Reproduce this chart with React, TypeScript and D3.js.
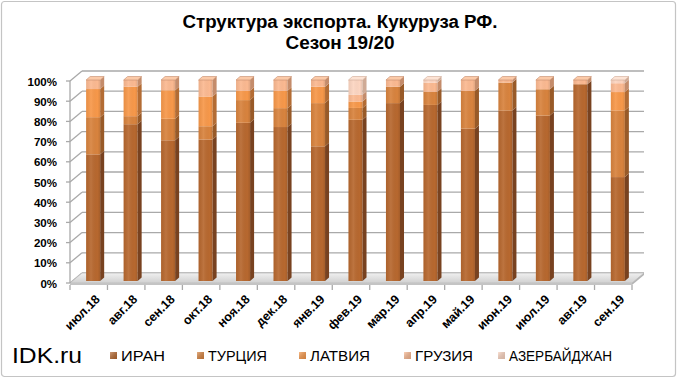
import React from 'react';
import * as d3 from 'd3';

const categories = ['июл.18', 'авг.18', 'сен.18', 'окт.18', 'ноя.18', 'дек.18', 'янв.19', 'фев.19', 'мар.19', 'апр.19', 'май.19', 'июн.19', 'июл.19', 'авг.19', 'сен.19'];
const seriesNames = ['ИРАН', 'ТУРЦИЯ', 'ЛАТВИЯ', 'ГРУЗИЯ', 'АЗЕРБАЙДЖАН'];
const iran = [63, 78, 70, 70.4, 78.7, 76.6, 67, 80.2, 88.5, 87.6, 75.8, 84.8, 82.3, 97.9, 51.7];
const turkey = [18.5, 4, 10.7, 6.6, 11.3, 9.4, 21.5, 5.9, 8.2, 6.5, 18.8, 13.9, 13.1, 0, 33.1];
const latvia = [14, 14.7, 14.2, 14.8, 4.6, 8.6, 8.2, 3.2, 0, 0, 0, 0, 0, 0, 9.2];
const georgia = [4.5, 3.3, 5.1, 8.2, 5.4, 5.4, 3.3, 3.3, 3.3, 4.6, 5.4, 1.3, 4.6, 2.1, 4.4];
const azerbaijan = [0, 0, 0, 0, 0, 0, 0, 7.4, 0, 1.3, 0, 0, 0, 0, 1.6];
const yTicks = [0, 10, 20, 30, 40, 50, 60, 70, 80, 90, 100];

const frontColors = ['#b7682f', '#d8833e', '#f7984a', '#fbb991', '#fcd5c1'];
const sideColors = ['#784220', '#985a28', '#b36c34', '#c48c6b', '#cfaa95'];
const topColors = ['#d88c55', '#eba56c', '#fbb57e', '#fccaa8', '#fde3d4'];

const NARROW = "'Liberation Sans Narrow', 'Arial Narrow', 'Liberation Sans', Arial, sans-serif";
const SANS = "'Liberation Sans', Arial, sans-serif";

export default function App() {
  const W = 680, H = 384;
  const seriesArrays = [iran, turkey, latvia, georgia, azerbaijan];
  const rows = categories.map((c, i) => {
    const r: any = { cat: c };
    seriesNames.forEach((s, k) => (r[s] = seriesArrays[k][i]));
    return r;
  });
  const stacked = d3.stack<any>().keys(seriesNames)(rows);

  const FL = 70, FR = 632;
  const DX = 12, DY = -10;
  const xFront = d3.scaleBand<string>().domain(categories).range([FL, FR]);
  const xBar = d3.scaleBand<string>().domain(categories).range([74.5, 636.5]).paddingInner(0.625).paddingOuter(0.31);
  const yF = d3.scaleLinear().domain([0, 100]).range([283, 81]);
  const yB = d3.scaleLinear().domain([0, 100]).range([281, 80]);
  const bw = xBar.bandwidth();
  const bdx = 4, bdy = -3.5;
  const grid = '#a9a9a9';

  const bars: any[] = [];
  categories.forEach((c, i) => {
    const x0 = xBar(c)!;
    let topIdx = -1;
    stacked.forEach((s, k) => {
      const d = s[i];
      if (d[1] - d[0] > 0) topIdx = k;
    });
    stacked.forEach((s, k) => {
      const d = s[i];
      if (d[1] - d[0] <= 0) return;
      const yt = yB(d[1]), yb = yB(d[0]);
      bars.push(
        <g key={`${c}-${k}`}>
          <rect x={x0} y={yt} width={bw} height={yb - yt} fill={frontColors[k]} />
          <rect x={x0} y={yt} width={bw} height={yb - yt} fill="url(#faceShade)" />
          <polygon
            points={`${x0 + bw},${yt} ${x0 + bw + bdx},${yt + bdy} ${x0 + bw + bdx},${yb + bdy} ${x0 + bw},${yb}`}
            fill={sideColors[k]}
          />
        </g>
      );
      if (k === topIdx) {
        bars.push(
          <polygon
            key={`${c}-top`}
            points={`${x0},${yt} ${x0 + bdx},${yt + bdy} ${x0 + bw + bdx},${yt + bdy} ${x0 + bw},${yt}`}
            fill={topColors[k]}
            stroke={sideColors[k]}
            strokeWidth={0.6}
          />
        );
      }
    });
  });

  const legendX = [110, 197, 299, 404, 498];
  const legendText = [44, 59, 60, 58, 103];

  return (
    <svg width={W} height={H} style={{ position: 'absolute', left: 0, top: 0, background: '#fff' }}>
      <defs>
        <linearGradient id="faceShade" x1="0" x2="1" y1="0" y2="0">
          <stop offset="0" stopColor="#000" stopOpacity="0.06" />
          <stop offset="0.35" stopColor="#fff" stopOpacity="0.08" />
          <stop offset="0.8" stopColor="#000" stopOpacity="0" />
          <stop offset="1" stopColor="#000" stopOpacity="0.1" />
        </linearGradient>
        <linearGradient id="floorGrad" x1="0" x2="0" y1="0" y2="1">
          <stop offset="0" stopColor="#f0f0f0" />
          <stop offset="1" stopColor="#d0d0d0" />
        </linearGradient>
        <linearGradient id="markerGrad" x1="0" x2="1" y1="0" y2="1">
          <stop offset="0" stopColor="#fff" stopOpacity="0.35" />
          <stop offset="1" stopColor="#000" stopOpacity="0.15" />
        </linearGradient>
      </defs>
      <rect x={1.5} y={1.5} width={674} height={375} rx={3} fill="#fff" stroke="#c4c4c4" strokeWidth={1.2} />

      {/* Title */}
      <text x={340} y={28} textAnchor="middle" fontFamily={NARROW} fontWeight="bold" fontSize={18} textLength={315} lengthAdjust="spacingAndGlyphs">
        Структура экспорта. Кукуруза РФ.
      </text>
      <text x={340} y={49} textAnchor="middle" fontFamily={NARROW} fontWeight="bold" fontSize={18} textLength={109} lengthAdjust="spacingAndGlyphs">
        Сезон 19/20
      </text>

      {/* back wall & side wall gridlines */}
      {yTicks.map((t) => (
        <g key={`g${t}`}>
          <line x1={FL} y1={yF(t)} x2={FL + DX} y2={yF(t) + DY} stroke={grid} strokeWidth={1.3} />
          <line x1={FL + DX} y1={yF(t) + DY} x2={FR + DX} y2={yF(t) + DY} stroke={grid} strokeWidth={1.3} />
        </g>
      ))}

      {/* floor */}
      <polygon points={`${FL},${yF(0)} ${FR},${yF(0)} ${FR + DX},${yF(0) + DY} ${FL + DX},${yF(0) + DY}`} fill="url(#floorGrad)" stroke="#bdbdbd" strokeWidth={0.8} />
      <polygon points={`${FL},${yF(0)} ${FR},${yF(0)} ${FR},${yF(0) + 2} ${FL},${yF(0) + 2}`} fill="#c4c4c4" />
      <polygon points={`${FR},${yF(0)} ${FR + DX},${yF(0) + DY} ${FR + DX},${yF(0) + DY + 2} ${FR},${yF(0) + 2}`} fill="#b4b4b4" />

      {bars}

      {/* y axis */}
      <line x1={FL} y1={yF(100)} x2={FL} y2={yF(0)} stroke={grid} strokeWidth={1.3} />
      {yTicks.map((t) => (
        <g key={`yt${t}`}>
          <line x1={FL - 4} y1={yF(t)} x2={FL} y2={yF(t)} stroke={grid} strokeWidth={1.3} />
          <text x={57} y={yF(t) + 4.5} textAnchor="end" fontFamily={SANS} fontWeight="bold" fontSize={11.5}>
            {`${t}%`}
          </text>
        </g>
      ))}

      {/* x axis ticks */}
      {d3.range(categories.length + 1).map((k) => {
        const xx = FL + k * xFront.step();
        return <line key={`xt${k}`} x1={xx} y1={yF(0) + 2} x2={xx} y2={yF(0) + 7} stroke={grid} strokeWidth={1.3} />;
      })}
      {categories.map((c) => {
        const cx = xFront(c)! + xFront.bandwidth() / 2 + 12;
        const cy = 300;
        return (
          <text key={`xl${c}`} x={cx} y={cy} transform={`rotate(-45 ${cx} ${cy})`} textAnchor="end" fontFamily={SANS} fontWeight="bold" fontSize={12.5}>
            {c}
          </text>
        );
      })}

      {/* IDK.ru */}
      <text x={12} y={363} fontFamily={NARROW} fontSize={22} textLength={70} lengthAdjust="spacingAndGlyphs">
        IDK.ru
      </text>

      {/* legend */}
      {seriesNames.map((s, k) => (
        <g key={`lg${s}`}>
          <rect x={legendX[k]} y={352} width={7} height={7} fill={frontColors[k]} />
          <rect x={legendX[k]} y={352} width={7} height={7} fill="url(#markerGrad)" />
          <text x={legendX[k] + 11} y={361} fontFamily={NARROW} fontSize={14} textLength={legendText[k]} lengthAdjust="spacingAndGlyphs">
            {s}
          </text>
        </g>
      ))}
    </svg>
  );
}
